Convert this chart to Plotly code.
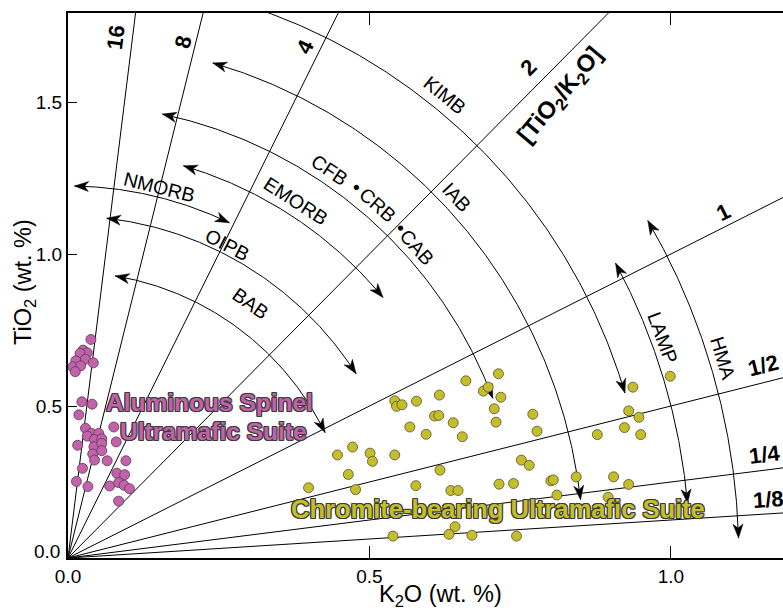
import numpy as np
import plotly.graph_objects as go

# ---------------- data ----------------
AL_K2O = [0.038, 0.025, 0.032, 0.020, 0.013, 0.029, 0.042, 0.008, 0.021, 0.012,
          0.023, 0.040, 0.018, 0.029, 0.076, 0.039, 0.051, 0.032, 0.044, 0.056,
          0.016, 0.043, 0.056, 0.080, 0.041, 0.056, 0.044, 0.065, 0.096, 0.024,
          0.014, 0.033, 0.081, 0.094, 0.069, 0.084, 0.093, 0.102, 0.084]
AL_TIO2 = [0.719, 0.684, 0.675, 0.673, 0.649, 0.654, 0.642, 0.629, 0.632, 0.613,
           0.514, 0.506, 0.471, 0.427, 0.431, 0.410, 0.410, 0.401, 0.390, 0.392,
           0.371, 0.366, 0.377, 0.382, 0.342, 0.353, 0.322, 0.320, 0.320, 0.295,
           0.252, 0.235, 0.279, 0.274, 0.237, 0.248, 0.239, 0.228, 0.187]

CR_K2O = [0.714, 0.660, 0.689, 0.697, 0.718, 0.707, 0.710, 0.616, 0.578, 0.542,
          0.545, 0.554, 0.608, 0.615, 0.639, 0.567, 0.594, 0.654, 0.472, 0.447,
          0.501, 0.505, 0.542, 0.465, 0.617, 0.399, 0.477, 0.577, 0.635, 0.647,
          0.715, 0.739, 0.752, 0.765, 0.642, 0.539, 0.632, 0.670, 0.744, 0.999,
          0.937, 0.771, 0.930, 0.947, 0.778, 0.923, 0.878, 0.950, 0.801, 0.805,
          0.843, 0.905, 0.930, 0.811, 0.896]
CR_TIO2 = [0.606, 0.583, 0.549, 0.562, 0.529, 0.491, 0.447, 0.536, 0.516, 0.517,
           0.499, 0.504, 0.467, 0.469, 0.445, 0.431, 0.407, 0.399, 0.365, 0.339,
           0.345, 0.318, 0.339, 0.275, 0.289, 0.231, 0.225, 0.238, 0.222, 0.222,
           0.243, 0.245, 0.322, 0.305, 0.103, 0.072, 0.078, 0.075, 0.072, 0.598,
           0.562, 0.473, 0.484, 0.463, 0.417, 0.429, 0.406, 0.406, 0.254, 0.257,
           0.267, 0.267, 0.242, 0.207, 0.200]

RATIOS = [16, 8, 4, 2, 1, 1/2, 1/4, 1/8]
RATIO_LABELS = ["16", "8", "4", "2", "1", "1/2", "1/4", "1/8"]

ARC_NAMES = ["NMORB", "OIPB", "EMORB", "BAB", "CFB-CRB-CAB", "KIMB", "IAB", "LAMP", "HMA"]
ARC_RADIUS = [1.224, 1.125, 1.345, 0.941, 1.493, 1.911, 1.697, 2.046, 2.207]  # TiO2-axis intercept
ARC_FROM = [89.0, 83.5, 73.6, 80.5, 78.0, 80.0, 73.7, 28.3, 30.2]           # deg (display)
ARC_TO = [64.3, 32.6, 39.6, 26.0, 20.6, 16.5, 6.5, 5.05, 1.7]
ARC_HEAD_FROM = [True, True, True, True, True, False, True, True, True]

X_TICKS = [0.0, 0.5, 1.0]
Y_TICKS = [0.5, 1.0, 1.5]

# ---------------- layout geometry ----------------
W, H = 783, 610
ML, MT, MB, MR = 68, 13, 52, 0
PW, PH = W - ML - MR, H - MT - MB
XMAX, YMAX = 1.186, 1.793
SX, SY = PW / XMAX, PH / YMAX   # px per data unit

FONT = "Liberation Sans, Arial, Helvetica, sans-serif"
MAG = "#c262aa"
OLV = "#c4bd2c"

fig = go.Figure()

# rays
for r in RATIOS:
    fig.add_trace(go.Scatter(x=[0, 3.0], y=[0, 3.0 * r], mode="lines",
                             line=dict(color="black", width=1), hoverinfo="skip",
                             showlegend=False))

# arcs (circular in display space) + arrowheads
hx, hy = [], []


def head(rpx, phi_deg, fwd):
    phi = np.radians(phi_deg)
    L, w, notch = 14.0, 5.0, 4.0
    phib = phi - fwd * L / rpx
    tip = np.array([rpx * np.cos(phi), rpx * np.sin(phi)])
    back = np.array([rpx * np.cos(phib), rpx * np.sin(phib)])
    u = (tip - back) / np.linalg.norm(tip - back)
    n = np.array([-u[1], u[0]])
    pts = [tip, back + n * w, tip - u * (L - notch), back - n * w, tip]
    for p in pts:
        hx.append(p[0] / SX)
        hy.append(p[1] / SY)
    hx.append(None)
    hy.append(None)


for R, a1, a2, hf in zip(ARC_RADIUS, ARC_FROM, ARC_TO, ARC_HEAD_FROM):
    rpx = R * SY
    ph = np.radians(np.linspace(a1, a2, 200))
    fig.add_trace(go.Scatter(x=rpx * np.cos(ph) / SX, y=rpx * np.sin(ph) / SY,
                             mode="lines", line=dict(color="black", width=1),
                             hoverinfo="skip", showlegend=False))
    if hf:
        head(rpx, a1, +1)
    head(rpx, a2, -1)

fig.add_trace(go.Scatter(x=hx, y=hy, mode="lines", fill="toself", fillcolor="black",
                         line=dict(color="black", width=0.5), hoverinfo="skip",
                         showlegend=False))

# data points
fig.add_trace(go.Scatter(x=AL_K2O, y=AL_TIO2, mode="markers", showlegend=False,
                         marker=dict(size=10, color=MAG, line=dict(color="#5a3a55", width=0.8))))
fig.add_trace(go.Scatter(x=CR_K2O, y=CR_TIO2, mode="markers", showlegend=False,
                         marker=dict(size=10, color=OLV, line=dict(color="#55522a", width=0.8))))

ann = []


def txt(x, y, s, size=18, angle=0, bold=False, color="black", shadow=None,
        xanchor="center", **kw):
    f = dict(family=FONT, size=size, color=color)
    if bold:
        f["weight"] = "bold"
    if shadow:
        f["shadow"] = shadow
    d = dict(x=x, y=y, text=s, showarrow=False, textangle=angle, font=f,
             xanchor=xanchor, yanchor="middle")
    d.update(kw)
    ann.append(d)


def arc_angle(k, t):
    px, py = k * SX, t * SY
    return 90 - np.degrees(np.arctan2(py, px))


# arc labels (data coords)
ARC_LABEL_POS = [("NMORB", 0.1517, 1.220), ("OIPB", 0.2653, 1.0296), ("EMORB", 0.378, 1.174),
                 ("BAB", 0.302, 0.838), ("CFB", 0.4345, 1.276), ("•", 0.4788, 1.219),
                 ("CRB", 0.514, 1.161), ("•", 0.552, 1.0845), ("CAB", 0.5788, 1.023),
                 ("KIMB", 0.625, 1.523), ("IAB", 0.645, 1.1875), ("LAMP", 0.9867, 0.7237),
                 ("HMA", 1.087, 0.6595)]
for s, k, t in ARC_LABEL_POS:
    txt(k, t, s, size=19.5, angle=arc_angle(k, t))

# ray labels
RAY_LABEL_POS = [(0.0796, 1.712), (0.1907, 1.697), (0.393, 1.684), (0.763, 1.615),
                 (1.086, 1.138), (1.119, 0.632), (1.124, 0.339), (1.132, 0.191)]
for lab, r, (k, t) in zip(RATIO_LABELS, RATIOS, RAY_LABEL_POS):
    ang = -np.degrees(np.arctan(r * SY / SX))
    if lab in ("1/2", "1/4", "1/8"):
        txt(k, t, lab, size=22, angle=ang, bold=True, xanchor="left")
    else:
        txt(k, t, lab, size=22, angle=ang, bold=True)
txt(0.8176, 1.523, "[TiO<sub>2</sub>/K<sub>2</sub>O]", size=24, angle=-50, bold=True)

# suite labels
OUT = "#3c3c3c"
sh = ", ".join(f"{a}px {b}px 0 {OUT}" for a, b in
               [(-1, -1), (1, -1), (-1, 1), (1, 1), (0, 1), (1, 0), (-1, 0), (0, -1)])
txt((209 - ML) / SX, (H - MB - 402) / SY, "Aluminous Spinel", size=24.5, bold=True, color=MAG, shadow=sh)
txt((213 - ML) / SX, (H - MB - 431) / SY, "Ultramafic Suite", size=24.5, bold=True, color=MAG, shadow=sh)
txt((498 - ML) / SX, (H - MB - 509) / SY, "Chromite-bearing Ultramafic Suite", size=25.5,
    bold=True, color=OLV, shadow=sh)

# axis titles
ann.append(dict(x=(440 - ML) / SX, y=0, yref="y", yshift=-37, text="K<sub>2</sub>O (wt. %)",
                showarrow=False, xanchor="center", yanchor="middle",
                font=dict(family=FONT, size=23.5, color="black")))
ann.append(dict(x=0, xref="paper", xshift=-44, y=(H - MB - 282) / SY, text="TiO<sub>2</sub> (wt. %)",
                showarrow=False, textangle=-90, xanchor="center", yanchor="middle",
                font=dict(family=FONT, size=23.5, color="black")))
# y 0.0 label (raised)
ann.append(dict(x=0, xref="paper", xshift=-6, y=0, yshift=7, text="0.0", showarrow=False,
                xanchor="right", yanchor="middle", font=dict(family=FONT, size=19, color="black")))

fig.update_layout(
    width=W, height=H, margin=dict(l=ML, r=MR, t=MT, b=MB),
    paper_bgcolor="white", plot_bgcolor="white",
    annotations=ann, showlegend=False,
    font=dict(family=FONT, size=19, color="black"),
    xaxis=dict(range=[0, XMAX], tickvals=X_TICKS, ticktext=[f"{v:.1f}" for v in X_TICKS],
               ticks="inside", ticklen=12, tickwidth=1, tickcolor="black",
               showline=True, linewidth=2, linecolor="black", mirror="ticks",
               showgrid=False, zeroline=False, fixedrange=True,
               tickfont=dict(family=FONT, size=19)),
    yaxis=dict(range=[0, YMAX], tickvals=Y_TICKS, ticktext=[f"{v:.1f}" for v in Y_TICKS],
               ticks="inside", ticklen=9, tickwidth=1, tickcolor="black",
               showline=True, linewidth=2, linecolor="black", mirror=False,
               showgrid=False, zeroline=False, fixedrange=True,
               tickfont=dict(family=FONT, size=19)),
)

fig.write_html("out.html")
